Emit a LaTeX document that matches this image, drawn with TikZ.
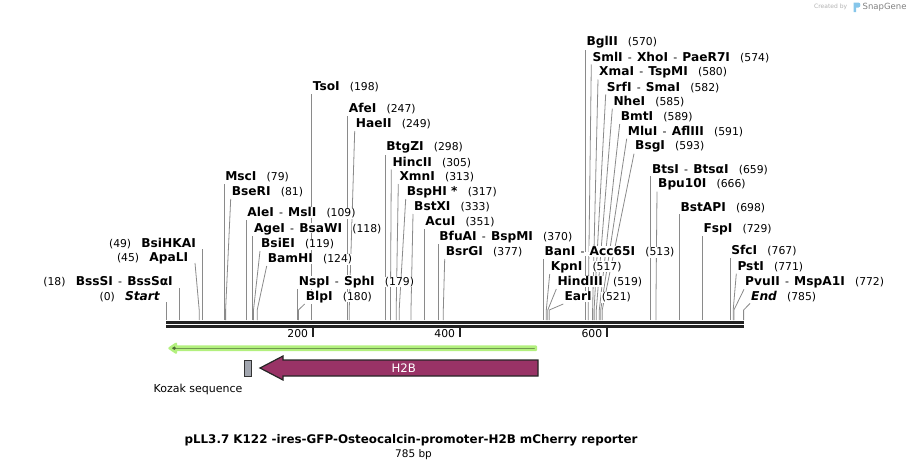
\documentclass[tikz,border=0pt]{standalone}
\usepackage{fontspec}
\setmainfont{DejaVu Sans}
\pgfdeclarelayer{background}
\pgfsetlayers{background,main}
\definecolor{leadc}{HTML}{8A8A8A}
\definecolor{bbone}{HTML}{222222}
\definecolor{htwob}{HTML}{993366}
\definecolor{gfpdark}{HTML}{4E6B36}
\definecolor{gfplight}{HTML}{B3F07E}
\definecolor{kozakc}{HTML}{A2A6AF}
\definecolor{snapblue}{HTML}{86C6EA}
\setlength{\fboxsep}{0.6pt}
\newcommand\nm[1]{\colorbox{white}{\fontsize{12.2}{14}\selectfont\bfseries #1}}
\newcommand\nmi[1]{\colorbox{white}{\fontsize{12.2}{14}\selectfont\bfseries\itshape #1}}
\newcommand\nb[1]{\colorbox{white}{\fontsize{10.8}{13}\selectfont(#1)}}
\newcommand\hy{\colorbox{white}{\fontsize{11}{13}\selectfont\hspace{4pt}-\hspace{4pt}}}
\newcommand\gp{\hspace{9pt}}
% \site{id}{site x}{line top x}{label y}{text}
\newcommand\site[5]{%
  \coordinate (s-#1) at (#2,320);
  \coordinate (t-#1) at (#3,#4+7);
  \node[lab,anchor=west] (l-#1) at (#3,#4) {#5};
  \begin{pgfonlayer}{background}
    \draw[leader] (s-#1) -- ++(0,-10) -- (t-#1);
  \end{pgfonlayer}}
\begin{document}
\begin{tikzpicture}[x=1pt,y=-1pt,
  lab/.style={inner xsep=0.4pt,inner ysep=0pt},
  leader/.style={draw=leadc,line width=0.8pt},
  tick/.style={draw=bbone,line width=2pt},
  ticklab/.style={anchor=east,font=\fontsize{10.8}{13}\selectfont,inner sep=0pt}]
\useasboundingbox (0,0) rectangle (911,471);

% backbone
\coordinate (b0) at (166,322.5);
\coordinate (b1) at (744,322.5);
\coordinate (c0) at (166,326.5);
\coordinate (c1) at (744,326.5);
\draw[bbone,line width=2.8pt] (b0) -- (b1);
\draw[bbone,line width=2.8pt] (c0) -- (c1);

% ticks
\foreach \tx/\tl in {313.2/200,460.3/400,607.4/600}{
  \coordinate (tk\tl) at (\tx,328);
  \draw[tick] (tk\tl) -- ++(0,9);
  \node[ticklab] (tl\tl) at (\tx-5,334) {\tl};
}

% left-side labels
\coordinate (s-start) at (166,320);
\coordinate (t-start) at (166,302);
\node[lab,anchor=east] (l-start) at (161,297) {\nb{0}\gp\nmi{Start}};
\coordinate (s-bsssi) at (179,320);
\coordinate (t-bsssi) at (179,288);
\node[lab,anchor=east] (l-bsssi) at (174,282) {\nb{18}\gp\nm{BssSI}\hy\nm{BssSαI}};
\coordinate (s-apali) at (199.2,320);
\coordinate (t-apali) at (195,263);
\node[lab,anchor=east] (l-apali) at (189.3,258) {\nb{45}\gp\nm{ApaLI}};
\coordinate (s-bsihkai) at (202.3,320);
\coordinate (t-bsihkai) at (202.3,249);
\node[lab,anchor=east] (l-bsihkai) at (197,243.5) {\nb{49}\gp\nm{BsiHKAI}};
\begin{pgfonlayer}{background}
\draw[leader] (s-start) -- (t-start);
\draw[leader] (s-bsssi) -- (t-bsssi);
\draw[leader] (s-apali) -- ++(0,-10) -- (t-apali);
\draw[leader] (s-bsihkai) -- (t-bsihkai);
\end{pgfonlayer}

% right-side labels
\site{mscI}{224.1}{224.1}{177}{\nm{MscI}\gp\nb{79}}
\site{bseri}{225.6}{230.7}{192}{\nm{BseRI}\gp\nb{81}}
\site{alei}{246.2}{246.2}{213}{\nm{AleI}\hy\nm{MslI}\gp\nb{109}}
\site{agei}{252.8}{252.8}{229}{\nm{AgeI}\hy\nm{BsaWI}\gp\nb{118}}
\site{bsiei}{253.5}{260}{244}{\nm{BsiEI}\gp\nb{119}}
\site{bamhi}{257.2}{266.7}{259}{\nm{BamHI}\gp\nb{124}}
\site{nspi}{297.7}{297.7}{282}{\nm{NspI}\hy\nm{SphI}\gp\nb{179}}
\site{blpi}{298.4}{304.7}{297}{\nm{BlpI}\gp\nb{180}}
\site{tsoi}{311.6}{311.6}{87}{\nm{TsoI}\gp\nb{198}}
\site{afei}{347.7}{347.7}{109}{\nm{AfeI}\gp\nb{247}}
\site{haeii}{349.2}{354.7}{124}{\nm{HaeII}\gp\nb{249}}
\site{btgzi}{385.2}{385.2}{147.5}{\nm{BtgZI}\gp\nb{298}}
\site{hincii}{390.4}{391.3}{162.5}{\nm{HincII}\gp\nb{305}}
\site{xmni}{396.2}{398.3}{177}{\nm{XmnI}\gp\nb{313}}
\site{bsphi}{399.2}{405.7}{192}{\nm{BspHI *}\gp\nb{317}}
\site{bstxi}{411}{413}{207}{\nm{BstXI}\gp\nb{333}}
\site{acui}{424.2}{424.2}{222}{\nm{AcuI}\gp\nb{351}}
\site{bfuai}{438.2}{438.2}{237}{\nm{BfuAI}\hy\nm{BspMI}\gp\nb{370}}
\site{bsrgi}{443.3}{444.7}{252}{\nm{BsrGI}\gp\nb{377}}
\site{bani}{543.4}{543.4}{252}{\nm{BanI}\hy\nm{Acc65I}\gp\nb{513}}
\site{kpni}{546.3}{549.7}{267}{\nm{KpnI}\gp\nb{517}}
\site{hindiii}{547.8}{556.3}{282}{\nm{HindIII}\gp\nb{519}}
\site{eari}{549.3}{563.3}{297}{\nm{EarI}\gp\nb{521}}
\site{bglii}{585.3}{585.3}{42.5}{\nm{BglII}\gp\nb{570}}
\site{smli}{588.2}{591.3}{57.5}{\nm{SmlI}\hy\nm{XhoI}\hy\nm{PaeR7I}\gp\nb{574}}
\site{xmai}{592.6}{598}{72.5}{\nm{XmaI}\hy\nm{TspMI}\gp\nb{580}}
\site{srfi}{594.1}{605.7}{87.3}{\nm{SrfI}\hy\nm{SmaI}\gp\nb{582}}
\site{nhei}{596.3}{612.3}{101.7}{\nm{NheI}\gp\nb{585}}
\site{bmti}{599.3}{619.7}{117}{\nm{BmtI}\gp\nb{589}}
\site{mlui}{600.7}{626.7}{131.7}{\nm{MluI}\hy\nm{AflIII}\gp\nb{591}}
\site{bsgi}{602.2}{634}{146.7}{\nm{BsgI}\gp\nb{593}}
\site{btsi}{650.8}{650.8}{169.3}{\nm{BtsI}\hy\nm{BtsαI}\gp\nb{659}}
\site{bpu}{655.9}{657}{184.7}{\nm{Bpu10I}\gp\nb{666}}
\site{bstapi}{679.4}{679.4}{207.3}{\nm{BstAPI}\gp\nb{698}}
\site{fspi}{702.3}{702.3}{229.3}{\nm{FspI}\gp\nb{729}}
\site{sfci}{730.2}{730.2}{251}{\nm{SfcI}\gp\nb{767}}
\site{psti}{733.2}{736.3}{266.7}{\nm{PstI}\gp\nb{771}}
\site{pvuii}{733.9}{744}{282.3}{\nm{PvuII}\hy\nm{MspA1I}\gp\nb{772}}
\site{end}{743.6}{750}{296.5}{\nmi{End}\gp\nb{785}}

% GFP-like feature arrow
\draw[fill=gfpdark,draw=gfplight,line width=2.4pt,line join=round]
  (536,346.6) -- (176,346.6) -- (176,343.8) -- (169.5,348.2) -- (176,352.6) -- (176,349.8) -- (536,349.8) -- cycle;

% Kozak
\node[draw=black!80,fill=kozakc,line width=1pt,minimum width=7pt,minimum height=16.5pt,inner sep=0pt] (kozak) at (248,368.3) {};
\node[font=\fontsize{11}{13}\selectfont,inner sep=0pt] (kozaklab) at (198,389.5) {Kozak sequence};

% H2B
\draw[fill=htwob,draw=black!85,line width=1.2pt,line join=miter]
  (538,360) -- (283,360) -- (283,356) -- (260,368) -- (283,380) -- (283,376) -- (538,376) -- cycle;
\node[text=white,font=\fontsize{11.7}{13}\selectfont,inner sep=0pt] (h2b) at (403.7,368) {H2B};

% title
\node[font=\fontsize{11.9}{14}\selectfont\bfseries,inner sep=0pt] (title) at (411,440.5) {pLL3.7 K122 -ires-GFP-Osteocalcin-promoter-H2B mCherry reporter};
\node[font=\fontsize{10.5}{12}\selectfont,inner sep=0pt] (bp) at (413.5,454.5) {785 bp};

% SnapGene credit
\node[font=\fontsize{6}{7}\selectfont,text=black!30,inner sep=0pt,anchor=west] (cb) at (814,7) {Created by};
\fill[snapblue] (853.5,2.5) -- (858.5,2.5) .. controls (861,2.5) and (861,7.5) .. (858.5,7.5) -- (856,7.5) -- (856,12) -- (853.5,12) -- cycle;
\node[font=\fontsize{8.5}{10}\selectfont,text=black!50,inner sep=0pt,anchor=west] (sg) at (862.5,7) {SnapGene};
\end{tikzpicture}
\end{document}
